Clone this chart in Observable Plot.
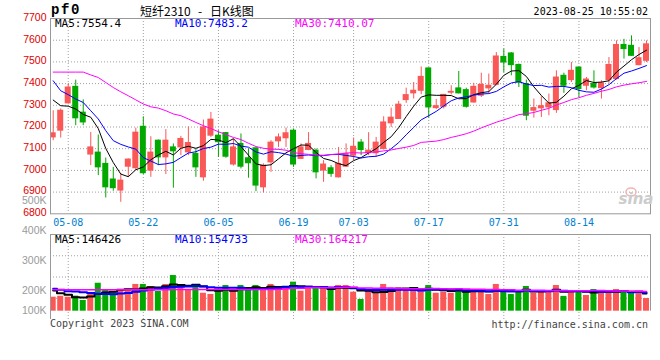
<!DOCTYPE html>
<html><head><meta charset="utf-8">
<script src="https://cdn.jsdelivr.net/npm/d3@7"></script>
<script src="https://cdn.jsdelivr.net/npm/@observablehq/plot@0.6"></script>
<style>
html,body{margin:0;padding:0;background:#fff;}
#chart{position:relative;width:660px;height:360px;overflow:hidden;background:#fff;}
#chart svg{position:absolute;left:0;top:0;}
</style></head><body><div id="chart"></div>
<script>
// ---- data ----
const contractCode = "pf0";
const titleName = "短纤2310";
const titleKind = "日K线图";
const timestamp = "2023-08-25 10:55:02";
const dates = ["05-04","05-05","05-08","05-09","05-10","05-11","05-12","05-15","05-16","05-17","05-18","05-19","05-22","05-23","05-24","05-25","05-26","05-29","05-30","05-31",
"06-01","06-02","06-05","06-06","06-07","06-08","06-09","06-12","06-13","06-14","06-15","06-16","06-19","06-20","06-21","06-26","06-27","06-28","06-29","06-30",
"07-03","07-04","07-05","07-06","07-07","07-10","07-11","07-12","07-13","07-14","07-17","07-18","07-19","07-20","07-21","07-24","07-25","07-26","07-27","07-28","07-31",
"08-01","08-02","08-03","08-04","08-07","08-08","08-09","08-10","08-11","08-14","08-15","08-16","08-17","08-18","08-21","08-22","08-23","08-24","08-25"];
const open  = [7152,7183,7309,7385,7266,7073,7082,7030,6958,6907,7017,7010,7201,6999,7137,7060,7106,7106,7083,7076,6968,7160,7160,7172,7027,7122,7056,7102,6922,7037,7134,7148,7183,7053,7094,7091,6999,7010,6968,7017,7068,7128,7079,7079,7099,7217,7237,7324,7355,7367,7470,7287,7293,7358,7378,7370,7313,7344,7378,7394,7523,7539,7486,7398,7275,7286,7290,7278,7436,7416,7474,7390,7398,7379,7416,7421,7578,7574,7485,7505];
const high  = [7275,7283,7398,7416,7325,7175,7163,7057,7014,6984,7053,7195,7247,7155,7140,7188,7122,7157,7201,7099,7232,7267,7183,7175,7145,7168,7099,7103,7030,7137,7168,7195,7191,7122,7174,7099,7045,7022,7106,7122,7149,7142,7174,7152,7247,7287,7318,7379,7405,7477,7472,7327,7350,7390,7456,7379,7401,7448,7444,7543,7559,7543,7490,7416,7329,7339,7352,7459,7448,7497,7476,7428,7459,7413,7520,7597,7604,7620,7566,7597];
const low   = [7137,7149,7305,7206,7206,7022,6976,6873,6904,6853,6968,6999,6981,6968,7022,6981,6918,7068,7068,6968,6950,7152,7060,7056,7020,7007,6964,6902,6896,6991,7106,7106,7014,7050,7091,6961,6945,6968,6965,7014,7045,7068,7068,7060,7094,7198,7235,7309,7329,7349,7241,7281,7283,7348,7352,7287,7310,7336,7352,7390,7450,7436,7382,7229,7241,7244,7252,7263,7355,7405,7336,7367,7375,7329,7401,7416,7513,7525,7482,7497];
const close = [7171,7275,7382,7240,7221,7106,7014,6922,6918,6953,7050,7174,6987,7082,7060,7137,7088,7145,7126,7014,7198,7234,7130,7063,7106,7017,7033,6930,7022,7128,7152,7171,7027,7106,7122,6991,7027,6984,7030,7076,7109,7094,7091,7128,7221,7243,7303,7347,7367,7431,7290,7296,7348,7362,7355,7293,7385,7394,7390,7525,7497,7485,7405,7252,7287,7296,7309,7428,7390,7459,7375,7419,7382,7401,7486,7578,7559,7528,7517,7581];
const ma5  = [7324,7298,7296,7283,7258,7245,7193,7101,7036,6983,6971,7003,7016,7049,7071,7088,7071,7102,7111,7102,7114,7143,7140,7128,7146,7110,7070,7030,7022,7026,7053,7081,7100,7117,7116,7083,7055,7046,7031,7022,7045,7059,7080,7100,7129,7155,7197,7248,7296,7338,7348,7346,7346,7345,7330,7331,7349,7358,7363,7397,7438,7458,7460,7433,7385,7345,7310,7314,7342,7376,7392,7414,7405,7407,7413,7453,7481,7510,7534,7554];
const ma10 = [7413,7367,7349,7329,7313,7275,7237,7183,7137,7120,7108,7098,7059,7043,7027,7030,7037,7059,7080,7086,7101,7107,7121,7120,7124,7112,7107,7085,7075,7086,7082,7075,7065,7069,7071,7068,7068,7073,7074,7069,7064,7057,7063,7065,7075,7100,7128,7164,7198,7233,7252,7272,7297,7321,7334,7339,7347,7352,7354,7364,7385,7403,7409,7398,7391,7392,7384,7387,7387,7381,7369,7362,7360,7375,7395,7423,7448,7458,7470,7483];
const ma30 = [7453,7453,7453,7453,7453,7440,7428,7405,7382,7362,7344,7325,7306,7293,7287,7275,7260,7252,7237,7221,7206,7193,7178,7165,7152,7142,7125,7110,7102,7098,7097,7093,7082,7077,7074,7070,7070,7073,7076,7080,7082,7080,7083,7085,7090,7094,7101,7107,7115,7129,7132,7135,7142,7152,7160,7169,7181,7196,7209,7222,7233,7244,7257,7261,7267,7277,7286,7301,7313,7326,7335,7346,7355,7365,7373,7385,7393,7399,7404,7410];
// volume, thousands of lots
const volumeK = [116,124,116,125,89,155,232,178,154,172,172,222,222,205,164,222,296,199,178,205,149,139,178,213,172,213,186,213,178,222,205,199,241,166,205,186,186,178,213,213,158,97,166,158,222,194,194,178,178,166,213,149,158,149,186,166,166,158,139,222,166,139,158,205,149,166,158,213,123,172,172,130,180,149,172,180,158,147,147,105];
const vma5K  = [172,149,136,116,114,122,143,156,162,178,182,180,188,199,197,207,222,217,212,220,205,174,170,177,170,183,192,199,192,202,201,203,209,207,203,199,197,184,194,195,190,172,169,158,160,167,187,189,193,182,186,177,173,167,171,162,165,165,163,170,170,165,165,178,163,163,167,178,162,166,168,162,155,161,161,162,168,161,161,146];
const vma10K = [186,178,166,164,158,150,145,142,140,146,152,162,172,180,188,194,201,203,205,209,206,198,194,194,195,194,183,185,185,186,192,198,204,200,203,200,200,197,200,199,195,184,177,176,178,179,179,179,176,171,177,182,181,180,177,174,171,169,165,171,166,165,165,171,167,167,166,172,170,165,166,165,167,161,164,165,165,158,161,155];
const vma30K = [178,178,178,178,178,178,178,178,178,178,178,178,178,178,178,178,180,180,180,180,180,180,180,180,180,180,180,180,180,180,183,186,190,191,195,196,195,195,197,198,198,193,192,190,192,191,188,187,187,186,188,188,187,185,186,184,183,182,180,180,179,177,174,176,174,173,172,173,170,169,169,170,171,171,169,168,167,166,165,164];
const tickDates = ["05-08","05-22","06-05","06-19","07-03","07-17","07-31","08-14"];
const priceTicks = [6800,6900,7000,7100,7200,7300,7400,7500,7600,7700];
const volTicksK = [200,300,400,500];
const volTickLowK = [100];
const maNames = ["MA5","MA10","MA30"];
const maLast = ["7554.4","7483.2","7410.07"];
const volMaLast = ["146426","154733","164217"];
const copyright = "Copyright 2023 SINA.COM";
const siteUrl = "http://finance.sina.com.cn";

// ---- styling ----
const RED = "#fa5757", GREEN = "#00a800";
const MA_COLORS = ["#000000", "#0000ff", "#ff00ff"];
const GRID = {stroke: "#a0a0a0", strokeDasharray: "1,2", strokeOpacity: 1};
const MONO = "'DejaVu Sans Mono', monospace";
const SANS = "'Liberation Sans', Arial, sans-serif";

const data = dates.map((d, i) => ({
  i, date: d, open: open[i], high: high[i], low: low[i], close: close[i],
  ma5: ma5[i], ma10: ma10[i], ma30: ma30[i],
  vol: volumeK[i], vma5: vma5K[i], vma10: vma10K[i], vma30: vma30K[i],
  col: close[i] >= open[i] ? RED : GREEN
}));
const tickIdx = tickDates.map(t => dates.indexOf(t));
const xDomain = [-0.36, 79.53];
const HALF = 0.4;

const chart = document.getElementById("chart");

// ---- price panel ----
const main = Plot.plot({
  width: 660, height: 232,
  marginLeft: 50, marginRight: 10, marginTop: 18, marginBottom: 18.7,
  x: {domain: xDomain, label: null},
  y: {domain: [priceTicks[0], priceTicks[priceTicks.length - 1]], label: null},
  color: {type: "identity"},
  style: {background: "transparent", overflow: "visible"},
  marks: [
    Plot.ruleY(priceTicks.slice(1, -1), GRID),
    Plot.ruleX(tickIdx, GRID),
    Plot.ruleX(data, {x: "i", y1: "low", y2: "high", stroke: "col", strokeWidth: 1, clip: true}),
    Plot.rect(data, {x1: d => d.i - HALF, x2: d => d.i + HALF, y1: "open", y2: "close", fill: "col", insetTop: -0.5, insetBottom: -0.5, clip: true}),
    Plot.line(data, {x: "i", y: "ma5", stroke: MA_COLORS[0], strokeWidth: 1, clip: true}),
    Plot.line(data, {x: "i", y: "ma10", stroke: MA_COLORS[1], strokeWidth: 1, clip: true}),
    Plot.line(data, {x: "i", y: "ma30", stroke: MA_COLORS[2], strokeWidth: 1, clip: true}),
    Plot.frame({stroke: "#999"}),
    Plot.axisY(priceTicks, {anchor: "left", label: null, tickSize: 0, tickPadding: 4, dy: -1, tickFormat: d => String(d), fill: "#e00000", fontSize: 10.5, fontFamily: SANS}),
    Plot.axisX(tickIdx, {anchor: "bottom", label: null, tickSize: 0, tickPadding: 5, tickFormat: i => dates[i], fill: "#0080d0", fontSize: 10, fontFamily: MONO})
  ]
});
chart.appendChild(main);

// ---- volume panel ----
const vDomain = [-69, 636.6];
const vGrid = [1, 2, 3].map(k => vDomain[0] + (vDomain[1] - vDomain[0]) * k / 4);
const vol = Plot.plot({
  width: 660, height: 360,
  marginLeft: 50, marginRight: 10, marginTop: 234, marginBottom: 41,
  x: {domain: xDomain, axis: null},
  y: {domain: vDomain, axis: null},
  color: {type: "identity"},
  style: {background: "transparent", overflow: "visible"},
  marks: [
    Plot.ruleY(vGrid, GRID),
    Plot.ruleX(tickIdx, GRID),
    Plot.rect(data, {x1: d => d.i - HALF, x2: d => d.i + HALF, y1: () => 0, y2: "vol", fill: "col", clip: true}),
    Plot.line(data, {x: "i", y: "vma5", curve: "step", stroke: MA_COLORS[0], strokeWidth: 2, clip: true}),
    Plot.line(data, {x: "i", y: "vma10", curve: "step", stroke: MA_COLORS[1], strokeWidth: 2, clip: true}),
    Plot.line(data, {x: "i", y: "vma30", curve: "step", stroke: MA_COLORS[2], strokeWidth: 1.5, clip: true}),
    Plot.ruleY([vDomain[1]], {stroke: "#999"}),
    Plot.ruleX([xDomain[0]], {stroke: "#999"}),
    Plot.ruleX([xDomain[1]], {y1: () => 0, y2: () => vDomain[1], stroke: "#999"})
  ]
});
chart.appendChild(vol);

// ---- volume axis labels (Sina spaces them 30px per 100K; the lowest is pulled up) ----
const volAxis = Plot.plot({
  width: 660, height: 360,
  marginLeft: 50, marginRight: 0, marginTop: 0, marginBottom: 0,
  y: {domain: [200, 500], range: [290.3, 200.7], label: null},
  style: {background: "transparent", overflow: "visible"},
  marks: [
    Plot.axisY(volTicksK, {anchor: "left", label: null, tickSize: 0, tickPadding: 4, dy: -0.5, tickFormat: d => d + "K", fill: "#9a9a9a", fontSize: 10.5, fontFamily: SANS}),
    Plot.axisY(volTickLowK, {anchor: "left", label: null, tickSize: 0, tickPadding: 4, dy: -10.5, tickFormat: d => d + "K", fill: "#9a9a9a", fontSize: 10.5, fontFamily: SANS})
  ]
});
chart.appendChild(volAxis);

// ---- header / footer texts ----
const svg = d3.create("svg").attr("width", 660).attr("height", 360).attr("font-family", MONO);
function txt(x, y, s, o = {}) {
  const t = svg.append("text").attr("x", x).attr("y", y).text(s)
    .attr("dominant-baseline", "central")
    .attr("text-anchor", o.anchor || "start")
    .attr("fill", o.fill || "#000")
    .attr("font-size", o.size || 11);
  if (o.family) t.attr("font-family", o.family);
  if (o.weight) t.attr("font-weight", o.weight);
  if (o.style) t.attr("font-style", o.style);
  if (o.ls) t.attr("letter-spacing", o.ls);
  return t;
}
txt(51, 10, contractCode, {family: "'Liberation Mono', monospace", weight: "bold", size: 14, ls: 1.6});
txt(140, 10, titleName, {family: "'Noto Sans CJK SC', sans-serif", size: 12});
txt(200, 10, "-", {family: "'Noto Sans CJK SC', sans-serif", size: 12, anchor: "middle"});
txt(210, 10, titleKind, {family: "'Noto Sans CJK SC', sans-serif", size: 12});
txt(648, 11.5, timestamp, {size: 10, anchor: "end"});
const maX = [55, 175, 295];
maNames.forEach((n, k) => {
  txt(maX[k], 23.7, `${n}:${maLast[k]}`, {fill: MA_COLORS[k], size: 11});
  txt(maX[k], 239, `${n}:${volMaLast[k]}`, {fill: MA_COLORS[k], size: 11});
});
txt(50, 323.5, copyright, {size: 10, fill: "#444"});
txt(648, 324, siteUrl, {size: 10, fill: "#444", anchor: "end"});
// watermark
svg.append("ellipse").attr("cx", 631).attr("cy", 192).attr("rx", 5).attr("ry", 4)
  .attr("fill", "none").attr("stroke", "#f2b4b4").attr("stroke-width", 1.5);
txt(636, 199, "sina", {family: "'DejaVu Sans', sans-serif", weight: "bold", style: "italic", size: 15, fill: "#cccccc", anchor: "middle"});
chart.appendChild(svg.node());
</script></body></html>
